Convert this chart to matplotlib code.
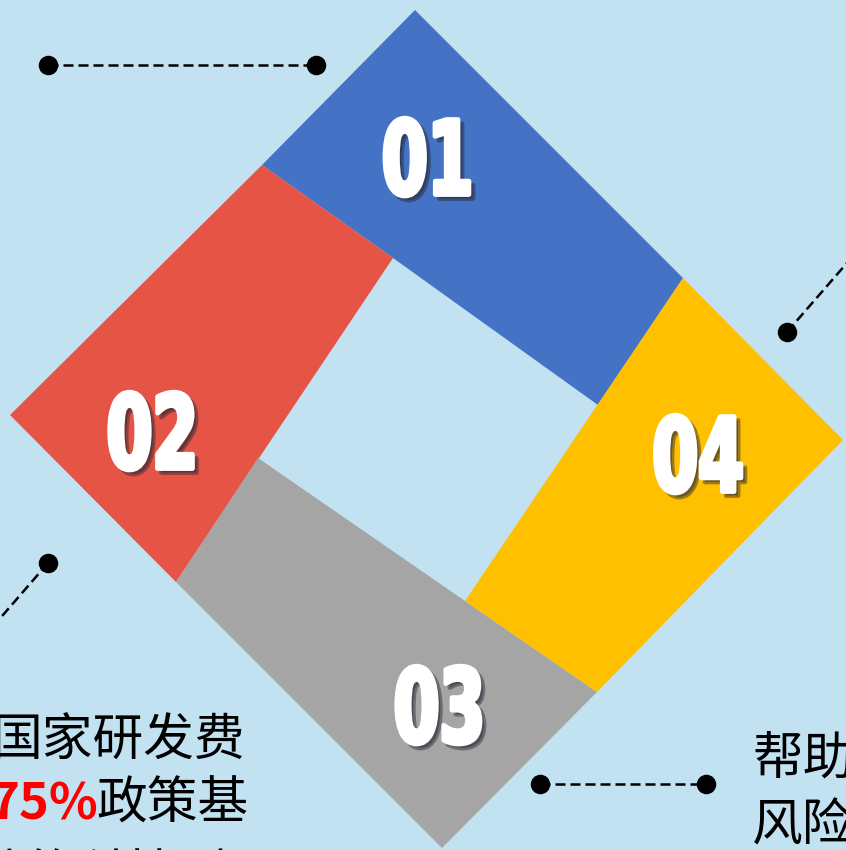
import matplotlib.pyplot as plt
import matplotlib.patheffects as pe
from matplotlib.patches import Polygon
from matplotlib.transforms import Affine2D

# piece outlines (pixel coords, y down)
blue_pts = [(262, 165), (415, 10), (683, 278), (598, 405), (393, 258)]
red_pts = [(10, 415), (262, 165), (393, 258), (176, 582)]
gray_pts = [(176, 582), (258, 458), (465, 601), (597, 692), (442, 848)]
yellow_pts = [(683, 278), (843, 440), (597, 692), (465, 601)]
piece_colors = ["#4472c4", "#e65446", "#a5a5a5", "#ffc000"]

labels = ["01", "02", "03", "04"]
label_xy = [(428, 166), (153, 440), (440, 714), (698, 463)]

# connector lines: (start, end)
connectors = [((48, 65), (316, 65)), ((787, 332), (860, 248)),
              ((48, 563), (-10, 630)), ((540, 784), (706, 784))]
connector_dots = [(48, 65), (316, 65), (787, 332), (48, 563), (540, 784), (706, 784)]

left_lines = ["国家研发费", "75%政策基", "础的科技型"]
right_lines = ["帮助", "风险"]


class Narrow(pe.AbstractPathEffect):
    """squeeze text horizontally around its centre and fatten the strokes"""

    def __init__(self, sx=0.6, lw=3, shadow=None):
        super().__init__()
        self.sx = sx
        self.lw = lw
        self.shadow = shadow

    def draw_path(self, renderer, gc, tpath, affine, rgbFace=None):
        ext = tpath.get_extents(affine)
        cx = (ext.x0 + ext.x1) / 2
        squeeze = Affine2D().translate(-cx, 0).scale(self.sx, 1).translate(cx, 0)
        tr = affine + squeeze
        if self.shadow is not None:
            dx, dy, col, a = self.shadow
            gs = renderer.new_gc()
            gs.copy_properties(gc)
            gs.set_alpha(a)
            gs.set_foreground(col)
            gs.set_linewidth(self.lw)
            renderer.draw_path(gs, tpath, tr + Affine2D().translate(dx, dy), col)
            gs.restore()
        g2 = renderer.new_gc()
        g2.copy_properties(gc)
        g2.set_foreground(rgbFace)
        g2.set_linewidth(self.lw)
        g2.set_joinstyle("round")
        renderer.draw_path(g2, tpath, tr, rgbFace)
        g2.restore()


plt.rcParams["font.family"] = ["Noto Sans CJK SC", "DejaVu Sans"]

fig = plt.figure(figsize=(8.46, 8.5), dpi=100)
fig.patch.set_facecolor("#c2e1f1")
ax = fig.add_axes([0, 0, 1, 1])
ax.set_xlim(0, 846)
ax.set_ylim(850, 0)
ax.axis("off")

for pts, c in zip([blue_pts, red_pts, gray_pts, yellow_pts], piece_colors):
    ax.add_patch(Polygon(pts, closed=True, facecolor=c, edgecolor="none"))

for lab, (x, y) in zip(labels, label_xy):
    ax.text(x, y, lab, color="white", fontsize=74, fontweight="bold",
            family="DejaVu Sans", ha="center", va="center",
            path_effects=[Narrow(0.64, lw=3.5, shadow=(4, -4, (0.15, 0.15, 0.2), 0.45))])

for (x0, y0), (x1, y1) in connectors:
    ax.plot([x0, x1], [y0, y1], color="black", lw=1.8, ls=(0, (4, 2)))
ax.scatter([p[0] for p in connector_dots], [p[1] for p in connector_dots],
           s=170, color="black", zorder=5)

# left text block, cut at the figure edge
fs = 36.5
ax.text(-8, 742, left_lines[0], fontsize=fs, va="center", ha="left")
ax.text(-10, 805, "75%", fontsize=fs, va="center", ha="left",
        color="#ff0000", fontweight="bold")
ax.text(96, 805, left_lines[1][3:], fontsize=fs, va="center", ha="left")
ax.text(-25, 877, left_lines[2], fontsize=fs, va="center", ha="left")

ax.text(752, 760, right_lines[0], fontsize=fs, va="center", ha="left")
ax.text(752, 826, right_lines[1], fontsize=fs, va="center", ha="left")

fig.savefig("out.png", dpi=100, facecolor=fig.get_facecolor())
